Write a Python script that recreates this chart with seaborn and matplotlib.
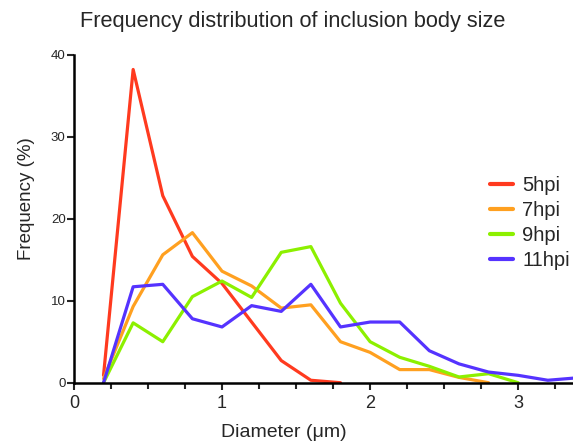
import seaborn as sns
import matplotlib.pyplot as plt
import pandas as pd

# bin centres (um)
diam = [0.2, 0.4, 0.6, 0.8, 1.0, 1.2, 1.4, 1.6, 1.8, 2.0, 2.2, 2.4, 2.6, 2.8, 3.0, 3.2, 3.4]

hpi5 = [0.9, 38.2, 22.8, 15.4, 12.1, 7.4, 2.7, 0.3, 0.0]
hpi7 = [0.5, 9.3, 15.6, 18.3, 13.6, 11.8, 9.1, 9.5, 5.0, 3.7, 1.6, 1.6, 0.65, 0.0]
hpi9 = [0.0, 7.3, 5.0, 10.5, 12.4, 10.4, 15.9, 16.6, 9.7, 5.0, 3.1, 2.0, 0.7, 1.1, 0.0]
hpi11 = [0.0, 11.7, 12.0, 7.8, 6.8, 9.4, 8.7, 12.0, 6.8, 7.4, 7.4, 3.9, 2.3, 1.3, 0.9, 0.3, 0.6]

series = {"5hpi": hpi5, "7hpi": hpi7, "9hpi": hpi9, "11hpi": hpi11}
colors = {"5hpi": "#FF3A1F", "7hpi": "#FFA020", "9hpi": "#8CF000", "11hpi": "#5533FF"}

rows = []
for name, vals in series.items():
    for x, y in zip(diam, vals):
        rows.append({"Diameter": x, "Frequency": y, "group": name})
df = pd.DataFrame(rows)

sns.set_style("ticks")
plt.rcParams["font.family"] = ["Liberation Sans", "DejaVu Sans"]

fig = plt.figure(figsize=(5.73, 4.47), dpi=100)
ax = fig.add_axes([0.129, 0.1438, 0.871, 0.7338])

sns.lineplot(data=df, x="Diameter", y="Frequency", hue="group",
             hue_order=list(series.keys()), palette=colors,
             linewidth=2.3, ax=ax)

ax.set_xlim(0, 3.37)
ax.set_ylim(0, 40)
ax.set_xticks([0, 1, 2, 3])
ax.set_xticks([0.25 * i for i in range(14)], minor=True)
ax.set_yticks([0, 10, 20, 30, 40])
ax.tick_params(axis="x", labelsize=13, length=5, width=1.5, direction="out")
ax.tick_params(axis="x", which="minor", length=4, width=1.5)
ax.tick_params(axis="y", labelsize=9.5, length=5, width=1.5, pad=1)

for s in ["left", "bottom"]:
    ax.spines[s].set_linewidth(1.8)
    ax.spines[s].set_color("black")
sns.despine(ax=ax)

fig.text(0.511, 0.953, "Frequency distribution of inclusion body size",
         fontsize=15.7, ha="center", va="center")
ax.set_xlabel("Diameter (\u03bcm)", fontsize=14)
ax.set_ylabel("Frequency (%)", fontsize=13.5)
ax.xaxis.set_label_coords(0.42, -0.125)
ax.yaxis.set_label_coords(-0.078, 0.56)

leg = ax.legend(title=None, frameon=False, fontsize=14.5, loc="upper left",
                bbox_to_anchor=(0.834, 0.63), borderaxespad=0, borderpad=0,
                handlelength=1.15, labelspacing=0.3, handletextpad=0.45)
for h in leg.get_lines():
    h.set_linewidth(3)

fig.savefig("out.png", dpi=100)
